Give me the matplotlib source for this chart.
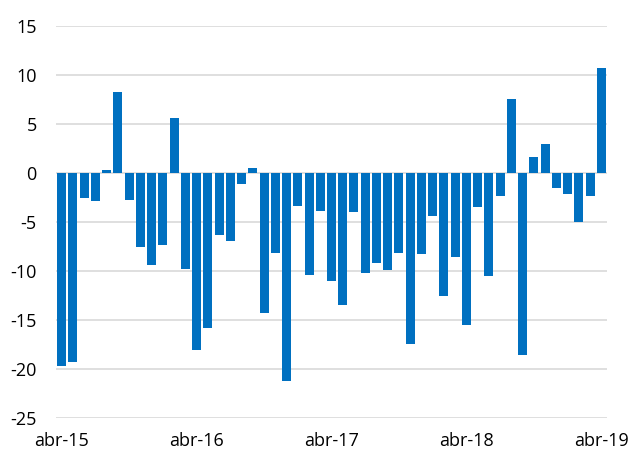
import matplotlib.pyplot as plt
import numpy as np

# monthly values, abr-15 .. abr-19
values = [
    -19.7, -19.3, -2.6, -2.9, 0.3, 8.2, -2.8, -7.5, -9.4, -7.3, 5.6, -9.8,
    -18.0, -15.8, -6.3, -6.9, -1.1, 0.5, -14.3, -8.2, -21.2, -3.4, -10.4, -3.9,
    -11.0, -13.5, -4.0, -10.2, -9.2, -9.9, -8.2, -17.4, -8.3, -4.4, -12.5, -8.6,
    -15.5, -3.5, -10.5, -2.4, 7.5, -18.5, 1.6, 2.9, -1.5, -2.1, -5.0, -2.3,
    10.7,
]
tick_labels = ["abr-15", "abr-16", "abr-17", "abr-18", "abr-19"]
tick_pos = [0, 12, 24, 36, 48]
yticks = [15, 10, 5, 0, -5, -10, -15, -20, -25]

plt.rcParams["font.family"] = ["Open Sans", "DejaVu Sans"]

fig = plt.figure(figsize=(6.3, 4.54), dpi=100)
ax = fig.add_axes([0.0889, 0.0786, 0.8746, 0.8648])

x = np.arange(len(values))
ax.bar(x, values, width=0.8, color="#0070C0", zorder=3)

ax.set_xlim(-0.5, len(values) - 0.5)
ax.set_ylim(-25, 15)
ax.set_yticks(yticks)
ax.set_yticklabels([str(v) for v in yticks])
ax.set_xticks(tick_pos)
ax.set_xticklabels(tick_labels)

ax.grid(axis="y", color="#d9d9d9", lw=1.2, zorder=0)
for s in ax.spines.values():
    s.set_visible(False)
ax.tick_params(axis="both", length=0, labelsize=13, colors="#000000")
ax.tick_params(axis="y", pad=14)
ax.tick_params(axis="x", pad=10)

fig.savefig("out.png", dpi=100)
